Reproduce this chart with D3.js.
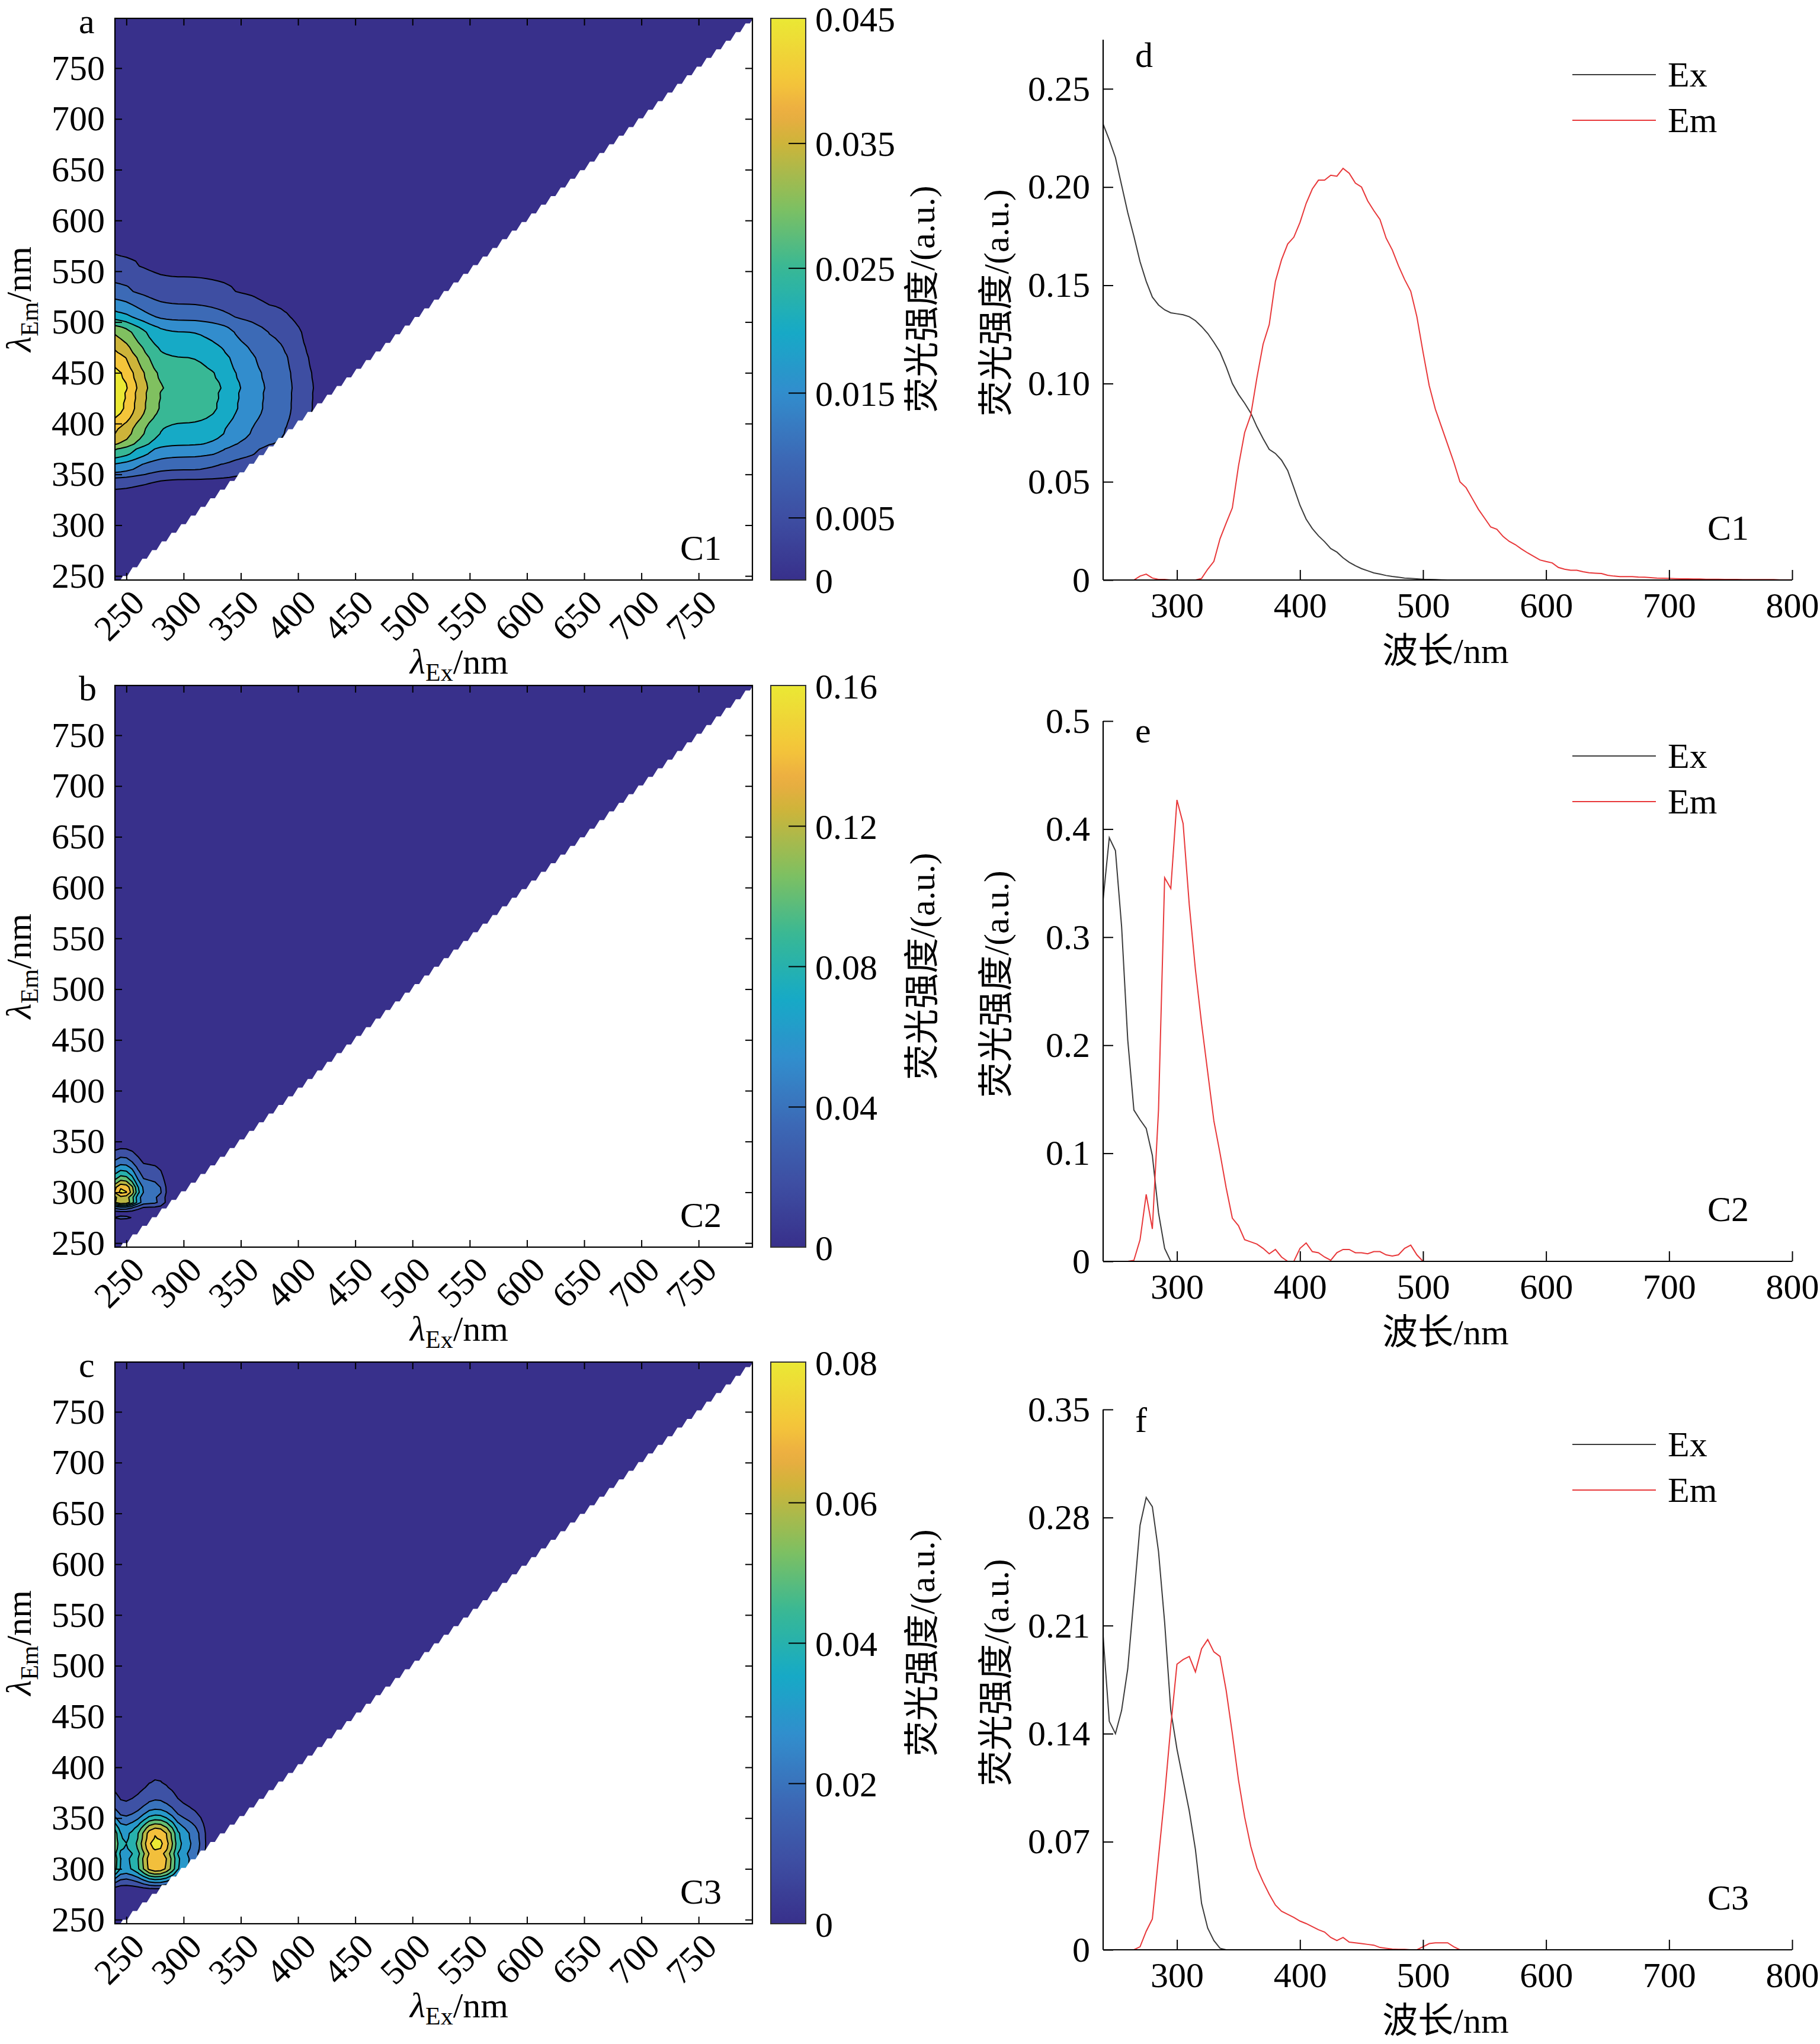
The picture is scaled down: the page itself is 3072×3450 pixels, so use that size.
<!DOCTYPE html>
<html>
<head>
<meta charset="utf-8">
<script src="https://cdn.jsdelivr.net/npm/d3@7"></script>
<style>
  body { margin: 0; background: #fff; }
  text { font-family: "Liberation Serif", "Times New Roman", "Noto Sans CJK SC", serif; fill: #000; }
</style>
</head>
<body>
<div id="chart-area"></div>
<script>
// wavelength grids: Ex starts at 240 nm, Em at 250 nm, 5 nm steps
var exStart = 240, emStart = 250, step = 5;

var exC1 = [0.232,0.224,0.215,0.201,0.187,0.175,0.162,0.152,0.144,0.140,0.1375,0.136,0.1355,0.135,0.134,0.132,0.129,0.1255,0.121,0.116,
  0.1085,0.100,0.0945,0.090,0.085,0.078,0.072,0.0665,0.0644,0.061,0.0557,0.047,0.038,0.031,0.0262,0.0225,0.0195,0.016,0.0142,0.0113,
  0.009,0.0073,0.0058,0.0047,0.0036,0.003,0.0023,0.0018,0.0014,0.001,0.0008,0.0006,0.0004,0.0003,0.0002,0.0001,0];
var emC1 = [0,0,0,0,0.002,0.003,0.001,0.0003,0.0003,0,0,0,0,0,0.0008,0.0055,0.0095,0.021,0.029,0.0367,
  0.058,0.075,0.084,0.103,0.12,0.13,0.152,0.163,0.171,0.1745,0.182,0.1917,0.199,0.2035,0.2035,0.206,0.2055,0.2095,0.207,0.202,
  0.2,0.193,0.188,0.1835,0.174,0.168,0.16,0.153,0.147,0.134,0.116,0.099,0.087,0.078,0.069,0.06,0.05,0.047,0.0415,0.036,
  0.0315,0.027,0.0258,0.0222,0.0197,0.018,0.0158,0.0138,0.012,0.0102,0.0094,0.0087,0.0064,0.0055,0.005,0.005,0.0042,0.0037,0.0035,0.0033,
  0.0024,0.002,0.0017,0.0017,0.0017,0.0015,0.0014,0.0012,0.001,0.0009,0.0008,0.0007,0.0006,0.0006,0.0005,0.0005,0.0004,0.0004,0.0004,0.0003,
  0.0003,0.0003,0.0002,0.0002,0.0002,0.0002,0.0002,0.0002,0.0001,0.0001,0.0001];
var exC2 = [0.335,0.392,0.38,0.31,0.205,0.14,0.131,0.123,0.098,0.045,0.012,0];
var emC2 = [0,0,0,0.001,0.02,0.062,0.03,0.14,0.355,0.345,0.427,0.405,0.33,0.27,0.22,0.175,0.13,0.1,0.068,0.04,
  0.033,0.02,0.018,0.016,0.012,0.007,0.011,0.004,0,0,0.012,0.017,0.009,0.008,0.004,0.001,0.008,0.011,0.011,0.008,
  0.008,0.007,0.009,0.009,0.006,0.005,0.006,0.012,0.015,0.006,0];
var exC3 = [0.203,0.148,0.140,0.155,0.182,0.228,0.275,0.293,0.287,0.258,0.212,0.155,0.13,0.11,0.09,0.065,0.03,0.014,0.006,0.001,0];
var emC3 = [0,0,0,0,0.002,0.012,0.02,0.06,0.1,0.145,0.185,0.188,0.19,0.18,0.195,0.201,0.193,0.19,0.168,0.14,
  0.11,0.086,0.067,0.053,0.044,0.036,0.029,0.025,0.023,0.021,0.0186,0.017,0.015,0.013,0.0115,0.008,0.006,0.008,0.005,0.0045,
  0.004,0.0035,0.003,0.0015,0.001,0.0005,0.0003,0.0003,0,0,0.002,0.004,0.0045,0.0045,0.0045,0.002,0];

var components = ["C1", "C2", "C3"];
var exData = [exC1, exC2, exC3];
var emData = [emC1, emC2, emC3];
var zPeaks = [0.049, 0.166, 0.084];          // peak EEM intensity of each component
var cbMax = [0.045, 0.16, 0.08];
var cbTicks = [[0, 0.005, 0.015, 0.025, 0.035, 0.045], [0, 0.04, 0.08, 0.12, 0.16], [0, 0.02, 0.04, 0.06, 0.08]];
var cbLabels = [["0", "0.005", "0.015", "0.025", "0.035", "0.045"], ["0", "0.04", "0.08", "0.12", "0.16"], ["0", "0.02", "0.04", "0.06", "0.08"]];
var levels = [[0.005, 0.01, 0.015, 0.02, 0.025, 0.03, 0.035, 0.04, 0.045],
  [0.02, 0.04, 0.06, 0.08, 0.1, 0.12, 0.14, 0.16],
  [0.01, 0.02, 0.03, 0.04, 0.05, 0.06, 0.07, 0.08]];
var eemTicks = [250, 300, 350, 400, 450, 500, 550, 600, 650, 700, 750];
var specXTicks = [300, 400, 500, 600, 700, 800];
var specYMax = [0.275, 0.5, 0.35];
var specYTicks = [[0, 0.05, 0.10, 0.15, 0.20, 0.25], [0, 0.1, 0.2, 0.3, 0.4, 0.5], [0, 0.07, 0.14, 0.21, 0.28, 0.35]];
var specYLabels = [["0", "0.05", "0.10", "0.15", "0.20", "0.25"], ["0", "0.1", "0.2", "0.3", "0.4", "0.5"], ["0", "0.07", "0.14", "0.21", "0.28", "0.35"]];
var eemLetters = ["a", "b", "c"];
var specLetters = ["d", "e", "f"];

// layout
var W = 3072, H = 3450, FS = 60;
var eemLeft = 194, eemRight = 1270, eemTop = [31, 1157, 2299], eemH = 948;
var cbLeft = 1301, cbRight = 1360;
var specLeft = 1862, specRight = 3025, specTop = [67, 1217, 2379], specH = 912;
var letterY = [113, 1253, 2417];
var yLabel = "荧光强度/(a.u.)";

// parula-like colormap as printed
var cmap = d3.scaleLinear()
  .domain([0, 0.111, 0.222, 0.333, 0.444, 0.555, 0.666, 0.777, 0.83, 0.888, 1])
  .range(["#38308b", "#3e4ea2", "#3c6ab6", "#328dcd", "#16aac6", "#38b895", "#80c060", "#cdb43a", "#ecac42", "#f4c53a", "#eae834"])
  .clamp(true);

var svg = d3.select("#chart-area").append("svg")
  .attr("width", W).attr("height", H);
var defs = svg.append("defs");

function styleAxis(sel) {
  sel.selectAll(".domain").remove();
  sel.selectAll(".tick line").attr("stroke", "#000").attr("stroke-width", 2);
  sel.selectAll(".tick text").attr("font-size", FS).attr("fill", "#000")
    .style("font-family", "'Liberation Serif','Times New Roman',serif");
}

function lambdaLabel(g, sub) {
  g.append("tspan").attr("font-style", "italic").text("λ");
  g.append("tspan").attr("font-size", 42).attr("dy", 12).text(sub);
  g.append("tspan").attr("dy", -12).text("/nm");
}

function eemPanel(k) {
  var top = eemTop[k], bottom = top + eemH;
  var x = d3.scaleLinear().domain([240, 797]).range([eemLeft, eemRight]);
  var y = d3.scaleLinear().domain([246, 799]).range([bottom, top]);
  var ex = exData[k], em = emData[k];
  var nx = (800 - exStart) / step + 1, ny = (800 - emStart) / step + 1;

  var raw = new Array(nx * ny);
  for (var j = 0; j < ny; j++) {
    for (var i = 0; i < nx; i++) {
      var a = i < ex.length ? ex[i] : 0;
      var b = j < em.length ? em[j] : 0;
      raw[j * nx + i] = a * b;
    }
  }
  var s = zPeaks[k] / d3.max(raw);
  var values = raw.map(function(v) { return v * s; });

  var contours = d3.contours().size([nx, ny]).thresholds(levels[k])(values);
  var proj = d3.geoTransform({
    point: function(gx, gy) {
      this.stream.point(x(exStart + (gx - 0.5) * step), y(emStart + (gy - 0.5) * step));
    }
  });
  var path = d3.geoPath(proj);

  defs.append("clipPath").attr("id", "clip" + k).append("rect")
    .attr("x", eemLeft).attr("y", top).attr("width", eemRight - eemLeft).attr("height", eemH);

  var plot = svg.append("g").attr("clip-path", "url(#clip" + k + ")");
  plot.append("rect")
    .attr("x", eemLeft).attr("y", top).attr("width", eemRight - eemLeft).attr("height", eemH)
    .attr("fill", cmap(0));
  plot.selectAll("path.c").data(contours).enter().append("path")
    .attr("class", "c")
    .attr("d", path)
    .attr("fill", function(d) { return cmap(d.value / cbMax[k]); })
    .attr("stroke", "#000")
    .attr("stroke-width", 2)
    .attr("stroke-linejoin", "round");

  // scatter region (Em < Ex) left blank
  var p = 8.5, off = 3, pts = [];
  for (var e = 230; e <= 815; e += p) {
    pts.push([e, e + off]);
    pts.push([e + 0.45 * p, e + off]);
  }
  pts.push([830, 830], [830, 200], [200, 200]);
  plot.append("path")
    .attr("d", d3.line().x(function(d) { return x(d[0]); }).y(function(d) { return y(d[1]); })(pts) + "Z")
    .attr("fill", "#fff");

  // axes with inward ticks on all sides
  svg.append("g").attr("transform", "translate(" + eemLeft + ",0)")
    .call(d3.axisLeft(y).tickValues(eemTicks).tickSize(-12).tickPadding(17))
    .call(styleAxis);
  svg.append("g").attr("transform", "translate(" + eemRight + ",0)")
    .call(d3.axisRight(y).tickValues(eemTicks).tickSize(-12).tickFormat(""))
    .call(styleAxis);
  svg.append("g").attr("transform", "translate(0," + top + ")")
    .call(d3.axisTop(x).tickValues(eemTicks).tickSize(-12).tickFormat(""))
    .call(styleAxis);
  svg.append("g").attr("transform", "translate(0," + bottom + ")")
    .call(d3.axisBottom(x).tickValues(eemTicks).tickSize(-12).tickFormat(""))
    .call(styleAxis);
  svg.append("rect")
    .attr("x", eemLeft).attr("y", top).attr("width", eemRight - eemLeft).attr("height", eemH)
    .attr("fill", "none").attr("stroke", "#000").attr("stroke-width", 2.2);

  svg.append("g").selectAll("text").data(eemTicks).enter().append("text")
    .attr("transform", function(d) { return "translate(" + (x(d) + 34) + "," + (bottom + 42) + ") rotate(-45)"; })
    .attr("text-anchor", "end")
    .attr("font-size", FS)
    .text(function(d) { return d; });

  var xl = svg.append("text").attr("x", 775).attr("y", bottom + 158)
    .attr("text-anchor", "middle").attr("font-size", FS);
  lambdaLabel(xl, "Ex");
  var yl = svg.append("text")
    .attr("transform", "translate(52," + ((top + bottom) / 2) + ") rotate(-90)")
    .attr("text-anchor", "middle").attr("font-size", FS);
  lambdaLabel(yl, "Em");

  svg.append("text").attr("x", 133).attr("y", top + 25).attr("font-size", FS).text(eemLetters[k]);
  svg.append("text").attr("x", eemRight - 52).attr("y", bottom - 34)
    .attr("text-anchor", "end").attr("font-size", FS).attr("fill", "#231815").text(components[k]);

  // colorbar
  var gid = "grad" + k;
  var grad = defs.append("linearGradient").attr("id", gid)
    .attr("x1", 0).attr("y1", 1).attr("x2", 0).attr("y2", 0);
  d3.range(0, 1.0001, 0.02).forEach(function(t) {
    grad.append("stop").attr("offset", t).attr("stop-color", cmap(t));
  });
  var cy = d3.scaleLinear().domain([0, cbMax[k]]).range([bottom, top]);
  svg.append("rect")
    .attr("x", cbLeft).attr("y", top).attr("width", cbRight - cbLeft).attr("height", eemH)
    .attr("fill", "url(#" + gid + ")")
    .attr("stroke", "#333").attr("stroke-width", 2);
  var cbAxis = svg.append("g").attr("transform", "translate(" + cbRight + ",0)")
    .call(d3.axisRight(cy).tickValues(cbTicks[k]).tickSize(-29).tickPadding(16)
      .tickFormat(function(d, i) { return cbLabels[k][i]; }))
    .call(styleAxis);
  cbAxis.selectAll(".tick text").attr("dy", "0.35em");
  cbAxis.selectAll(".tick line").filter(function(d) { return d === 0 || d === cbMax[k]; }).remove();

  svg.append("text")
    .attr("transform", "translate(1557," + ((top + bottom) / 2) + ") rotate(-90)")
    .attr("text-anchor", "middle").attr("dominant-baseline", "central")
    .attr("font-size", FS).text(yLabel);
}

function specPanel(k) {
  var top = specTop[k], bottom = top + specH;
  var x = d3.scaleLinear().domain([240, 800]).range([specLeft, specRight]);
  var y = d3.scaleLinear().domain([0, specYMax[k]]).range([bottom, top]);

  var exLine = d3.line().x(function(d, i) { return x(exStart + i * step); }).y(function(d) { return y(d); });
  var emLine = d3.line().x(function(d, i) { return x(emStart + i * step); }).y(function(d) { return y(d); });

  svg.append("path").attr("d", exLine(exData[k]))
    .attr("fill", "none").attr("stroke", "#3c3c3c").attr("stroke-width", 2);
  svg.append("path").attr("d", emLine(emData[k]))
    .attr("fill", "none").attr("stroke", "#e8383a").attr("stroke-width", 2);

  svg.append("g").attr("transform", "translate(" + specLeft + ",0)")
    .call(d3.axisLeft(y).tickValues(specYTicks[k]).tickSize(-17).tickSizeOuter(0).tickPadding(22)
      .tickFormat(function(d, i) { return specYLabels[k][i]; }))
    .call(styleAxis);
  svg.append("g").attr("transform", "translate(0," + bottom + ")")
    .call(d3.axisBottom(x).tickValues(specXTicks).tickSize(-17).tickSizeOuter(0).tickPadding(20))
    .call(styleAxis);
  svg.append("line").attr("x1", specLeft).attr("x2", specLeft).attr("y1", top).attr("y2", bottom)
    .attr("stroke", "#000").attr("stroke-width", 2.2);
  svg.append("line").attr("x1", specLeft).attr("x2", specRight).attr("y1", bottom).attr("y2", bottom)
    .attr("stroke", "#000").attr("stroke-width", 2.2);

  svg.append("text").attr("x", 1916).attr("y", letterY[k]).attr("font-size", FS).text(specLetters[k]);
  svg.append("text").attr("x", 2952).attr("y", bottom - 68)
    .attr("text-anchor", "end").attr("font-size", FS).attr("fill", "#231815").text(components[k]);

  // legend
  var legend = [["Ex", "#3c3c3c", 59], ["Em", "#e8383a", 136]];
  legend.forEach(function(l) {
    svg.append("line").attr("x1", 2654).attr("x2", 2795).attr("y1", top + l[2]).attr("y2", top + l[2])
      .attr("stroke", l[1]).attr("stroke-width", 2);
    svg.append("text").attr("x", 2815).attr("y", top + l[2]).attr("dominant-baseline", "central")
      .attr("font-size", FS).text(l[0]);
  });

  svg.append("text").attr("x", 2440).attr("y", bottom + 140)
    .attr("text-anchor", "middle").attr("font-size", FS).text("波长/nm");
  svg.append("text")
    .attr("transform", "translate(1682," + ((top + bottom) / 2 - 12) + ") rotate(-90)")
    .attr("text-anchor", "middle").attr("dominant-baseline", "central")
    .attr("font-size", FS).text(yLabel);
}

for (var k = 0; k < 3; k++) {
  eemPanel(k);
  specPanel(k);
}
</script>
</body>
</html>
